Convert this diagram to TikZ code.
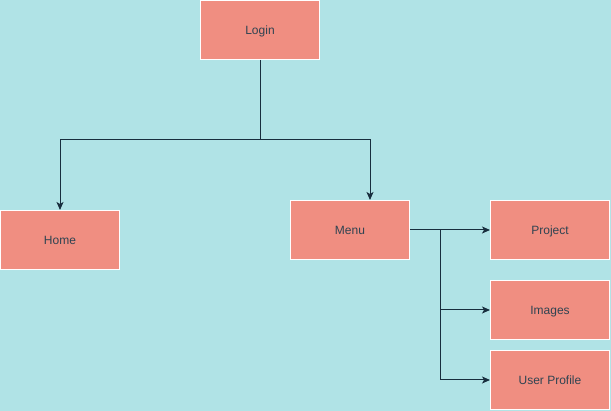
\documentclass[tikz,border=0pt]{standalone}
\usepackage{fontspec}
\setmainfont{Liberation Sans}
\usepackage{tikz}
\usetikzlibrary{arrows.meta,calc,positioning}

\definecolor{bgcyan}{HTML}{B0E3E6}
\definecolor{boxsalmon}{HTML}{F08E81}
\definecolor{linedark}{HTML}{182E3E}

\begin{document}
\begin{tikzpicture}[x=1pt, y=-1pt,
					every node/.style={
						font=\fontsize{12}{14}\selectfont, text=linedark!90
					},
					page/.style={
						rectangle, draw=white, line width=1pt, fill=boxsalmon,
						minimum width=119pt, minimum height=59pt, inner sep=0pt,
						text height=8.6pt, text depth=0pt
					},
					link/.style={
						draw=linedark, line width=1pt,
						-{Stealth[length=8pt,width=7pt,inset=2pt]}
					}
				]
				\useasboundingbox[fill=bgcyan] (0,0) rectangle (611,411);
				
				\node[page] (login) at (260,30) {Login};
				\node[page] (home) at (60,240) {Home};
				\node[page] (menu) at (350,230) {Menu};
				\node[page] (project) at (550,230) {Project};
				\node[page] (images) at (550,310) {Images};
				\node[page] (profile) at (550,380) {User Profile};
				
				% split under login
				\coordinate (split) at ($(login.south) + (0,80)$);
				% branch point right of menu
				\coordinate (fork) at ($(menu.east) + (30,0)$);
				
				\draw[link] (login.south) -- (split) -| (home.north);
				\draw[link] (split) -| ($(menu.north) + (20,0)$);
				\draw[link] (menu.east) -- (project.west);
				\draw[link] (fork) |- (images.west);
				\draw[link] (fork) |- (profile.west);
			\end{tikzpicture}
\end{document}
